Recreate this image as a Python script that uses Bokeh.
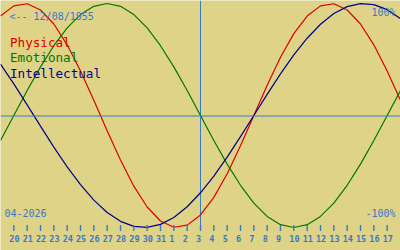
from bokeh.plotting import figure
from bokeh.models import Range1d, Span
from bokeh.core.properties import value
from bokeh.embed import file_html
from bokeh.resources import INLINE

# ---- data ----
# day index -1 .. 29  (19 Mar .. 18 Apr 2026)
day_index = list(range(-1, 30))
physical = [0.888, 0.979, 0.998, 0.942, 0.817, 0.631, 0.398, 0.136, -0.136, -0.398,
            -0.631, -0.817, -0.942, -0.998, -0.979, -0.888, -0.731, -0.520, -0.270, 0.0,
            0.270, 0.520, 0.731, 0.888, 0.979, 0.998, 0.942, 0.817, 0.631, 0.398, 0.136]
emotional = [-0.223, 0.0, 0.223, 0.434, 0.623, 0.782, 0.901, 0.975, 1.0, 0.975,
             0.901, 0.782, 0.623, 0.434, 0.223, 0.0, -0.223, -0.434, -0.623, -0.782,
             -0.901, -0.975, -1.0, -0.975, -0.901, -0.782, -0.623, -0.434, -0.223, 0.0, 0.223]
intellectual = [0.458, 0.282, 0.095, -0.095, -0.282, -0.458, -0.618, -0.756, -0.866, -0.945,
                -0.990, -0.999, -0.972, -0.910, -0.815, -0.690, -0.541, -0.372, -0.189, 0.0,
                0.189, 0.372, 0.541, 0.690, 0.815, 0.910, 0.972, 0.999, 0.990, 0.945, 0.866]
tick_labels = ["20", "21", "22", "23", "24", "25", "26", "27", "28", "29", "30", "31",
               "1", "2", "3", "4", "5", "6", "7", "8", "9", "10", "11", "12", "13",
               "14", "15", "16", "17"]
today_index = 14
series_names = ["Physical", "Emotional", "Intellectual"]
birth_label = "<-- 12/08/1955"
month_label = "04-2026"

# ---- styling ----
BG = "#dfd387"
TXT = "#3a78c8"
COLORS = ["#dc0000", "#007800", "#000088"]
FONT = value("DejaVu Sans Mono")

W, H = 400, 250
Y0 = 115.0      # pixel row of 0%
AMP = 112.0     # pixels per 100%
PXD = 400.0 / 30.0


def vy(py):
    return (Y0 - py) / AMP


def vx(px):
    return px / PXD - 1.0


p = figure(width=W, height=H, output_backend="svg", toolbar_location=None,
           x_range=Range1d(-1, 29), y_range=Range1d(vy(H), vy(0)),
           min_border=0, background_fill_color=BG, border_fill_color=BG)
p.axis.visible = False
p.grid.visible = False
p.outline_line_color = None

# reference lines
p.add_layout(Span(location=vy(115.5), dimension="width", line_color=TXT, line_width=1))
p.segment(x0=[today_index], y0=[vy(0)], x1=[today_index], y1=[vy(230)],
          line_color=TXT, line_width=1)

# curves
for vals, col in zip([physical, emotional, intellectual], COLORS):
    p.line(day_index, vals, line_color=col, line_width=1.2)

# ticks and tick labels
tick_x = list(range(len(tick_labels)))
p.segment(x0=tick_x, y0=[vy(224.5)] * len(tick_x), x1=tick_x, y1=[vy(230.5)] * len(tick_x),
          line_color=TXT, line_width=1.4)
p.text(x=tick_x, y=[vy(238)] * len(tick_x), text=tick_labels, text_color=TXT,
       text_font=FONT, text_font_size="8.5px", text_font_style="bold",
       text_align="left", text_baseline="middle", x_offset=-4.5)

# corner texts
p.text(x=[vx(9)], y=[vy(16)], text=[birth_label], text_color=TXT, text_font=FONT,
       text_font_size="10px", text_align="left", text_baseline="middle")
p.text(x=[vx(395)], y=[vy(12)], text=["100%"], text_color=TXT, text_font=FONT,
       text_font_size="10px", text_align="right", text_baseline="middle")
p.text(x=[vx(395)], y=[vy(212.5)], text=["-100%"], text_color=TXT, text_font=FONT,
       text_font_size="10px", text_align="right", text_baseline="middle")
p.text(x=[vx(4)], y=[vy(212)], text=[month_label], text_color=TXT, text_font=FONT,
       text_font_size="10px", text_align="left", text_baseline="middle")

# legend texts
for k, (name, col) in enumerate(zip(series_names, COLORS)):
    p.text(x=[vx(9.5)], y=[vy(41.5 + 15.5 * k)], text=[name], text_color=col,
           text_font=FONT, text_font_size="12.6px", text_align="left",
           text_baseline="alphabetic")

open("out.html", "w").write(file_html(p, INLINE))
